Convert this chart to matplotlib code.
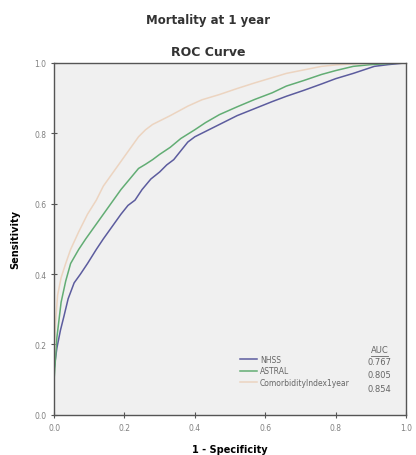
import matplotlib.pyplot as plt
import matplotlib.ticker as mticker

# ROC curve points
nhss_fpr = [0.0, 0.0, 0.008, 0.018, 0.028, 0.04, 0.057, 0.075, 0.095, 0.12, 0.14, 0.165, 0.19, 0.21, 0.23, 0.25, 0.275, 0.30, 0.32, 0.34, 0.36, 0.38, 0.40, 0.43, 0.47, 0.52, 0.57, 0.62, 0.66, 0.71, 0.76, 0.80, 0.85, 0.91, 0.95, 1.0]
nhss_tpr = [0.0, 0.13, 0.19, 0.24, 0.28, 0.33, 0.375, 0.40, 0.43, 0.47, 0.50, 0.535, 0.57, 0.595, 0.61, 0.64, 0.67, 0.69, 0.71, 0.725, 0.75, 0.775, 0.79, 0.805, 0.825, 0.85, 0.87, 0.89, 0.905, 0.922, 0.94, 0.955, 0.97, 0.99, 0.995, 1.0]

astral_fpr = [0.0, 0.0, 0.008, 0.02, 0.033, 0.047, 0.07, 0.09, 0.115, 0.14, 0.165, 0.19, 0.215, 0.24, 0.26, 0.28, 0.30, 0.33, 0.36, 0.40, 0.43, 0.47, 0.52, 0.57, 0.62, 0.66, 0.71, 0.76, 0.80, 0.85, 0.90, 0.95, 1.0]
astral_tpr = [0.0, 0.10, 0.22, 0.32, 0.38, 0.43, 0.47, 0.50, 0.535, 0.57, 0.605, 0.64, 0.67, 0.70, 0.712, 0.725, 0.74, 0.76, 0.785, 0.81, 0.83, 0.853, 0.875, 0.896, 0.915, 0.934, 0.95, 0.967, 0.978, 0.99, 0.995, 0.998, 1.0]

como_fpr = [0.0, 0.0, 0.004, 0.01, 0.02, 0.033, 0.047, 0.07, 0.095, 0.12, 0.14, 0.165, 0.19, 0.215, 0.24, 0.26, 0.28, 0.33, 0.38, 0.42, 0.47, 0.52, 0.57, 0.62, 0.66, 0.71, 0.76, 0.80, 0.85, 0.92, 1.0]
como_tpr = [0.0, 0.15, 0.26, 0.34, 0.39, 0.43, 0.47, 0.52, 0.57, 0.61, 0.65, 0.685, 0.72, 0.755, 0.79, 0.81, 0.825, 0.85, 0.877, 0.895, 0.91, 0.927, 0.943, 0.958, 0.97, 0.98, 0.99, 0.994, 0.997, 0.999, 1.0]

labels = ['NHSS', 'ASTRAL', 'ComorbidityIndex1year']
auc = ['0.767', '0.805', '0.854']
colors = ['#5c5c9e', '#62ad74', '#ecd4c0']

fig = plt.figure(figsize=(4.16, 4.56), dpi=100)
ax = fig.add_axes([0.13, 0.088, 0.846, 0.772])
ax.set_facecolor('#f0f0f0')

curves = [(nhss_fpr, nhss_tpr), (astral_fpr, astral_tpr), (como_fpr, como_tpr)]
for (fx, ty), c, lab in zip(curves, colors, labels):
    ax.plot(fx, ty, color=c, lw=1.1, label=lab)

ax.set_xlim(0, 1)
ax.set_ylim(0, 1)
ax.xaxis.set_major_locator(mticker.MultipleLocator(0.2))
ax.yaxis.set_major_locator(mticker.MultipleLocator(0.2))
ax.xaxis.set_major_formatter(mticker.FormatStrFormatter('%.1f'))
ax.yaxis.set_major_formatter(mticker.FormatStrFormatter('%.1f'))
ax.tick_params(labelsize=5.5, labelcolor='#808080', color='#555555', length=4, width=0.8, direction='inout')
for s in ax.spines.values():
    s.set_color('#555555')
    s.set_linewidth(1.0)

ax.set_xlabel('1 - Specificity', fontsize=7, fontweight='bold', labelpad=9)
ax.set_ylabel('Sensitivity', fontsize=7, fontweight='bold', labelpad=10)

fig.text(0.5, 0.955, 'Mortality at 1 year', ha='center', va='center', fontsize=8.5, fontweight='bold', color='#333333')
fig.text(0.5, 0.885, 'ROC Curve', ha='center', va='center', fontsize=9, fontweight='bold', color='#333333')

leg = ax.legend(loc='lower right', bbox_to_anchor=(0.86, 0.06), frameon=False, fontsize=5.5,
                handlelength=2.2, handletextpad=0.4, labelspacing=0.35)
for t in leg.get_texts():
    t.set_color('#666666')

ax.text(0.925, 0.185, 'AUC', transform=ax.transAxes, ha='center', va='center', fontsize=6, color='#666666')
ax.plot([0.90, 0.95], [0.168, 0.168], transform=ax.transAxes, color='#666666', lw=0.6)
for i, a in enumerate(auc):
    ax.text(0.925, 0.152 - i * 0.038, a, transform=ax.transAxes, ha='center', va='center', fontsize=6, color='#666666')

fig.savefig('out.png', dpi=100, facecolor='white')
